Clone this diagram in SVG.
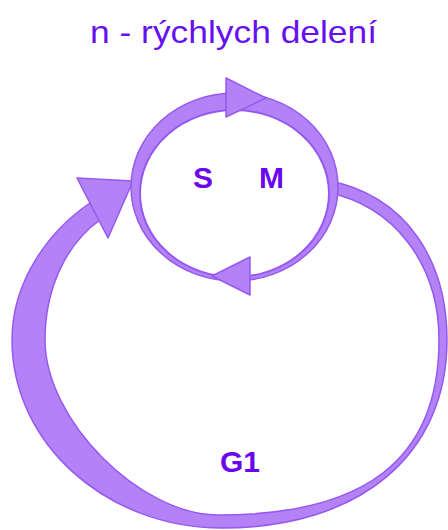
<svg xmlns="http://www.w3.org/2000/svg" width="448" height="530" viewBox="0 0 448 530">
  <style>
    .band { fill: #b482f7; stroke: #9658f0; stroke-width: 1.5; stroke-linejoin: round; }
    .hole { fill: #ffffff; stroke: #9658f0; stroke-width: 2; }
    .title { font-family: "Liberation Sans", Arial, sans-serif; font-size: 32px; fill: #6610f0; }
    .lbl { font-family: "Liberation Sans", Arial, sans-serif; font-size: 30px; font-weight: bold; fill: #6a06ee; }
  </style>
  <rect width="448" height="530" fill="#ffffff"/>
  <text class="title" x="90" y="43" textLength="287" lengthAdjust="spacingAndGlyphs">n - rýchlych delení</text>
  <g id="connectors">
    <path id="g1-band" class="band" d="M 90,203 C 50,230 12,280 12,340 C 12,443 106,528 222,528 C 360,528 447,455 447,340 C 447,265 410,195 325,180 L 325,192 C 395,205 439,265 439,340 C 439,462 362,515 218,515 C 140,515 45,420 45,340 C 45,290 65,245 100,220 Z"/>
    <polygon id="g1-arrow" class="band" points="77,178 133,181 108,238"/>
  </g>
  <g id="sm-cycle">
    <ellipse class="band" cx="234.5" cy="187" rx="103.5" ry="94"/>
    <ellipse class="hole" cx="234.5" cy="193.5" rx="94.5" ry="83.5"/>
    <polygon class="band" points="226,78 226,117 266,98"/>
    <polygon class="band" points="250,257 250,295 212,276"/>
  </g>
  <g id="node-s"><text class="lbl" x="193" y="188">S</text></g>
  <g id="node-m"><text class="lbl" x="259" y="188">M</text></g>
  <g id="node-g1"><text class="lbl" x="220" y="472">G1</text></g>
</svg>
